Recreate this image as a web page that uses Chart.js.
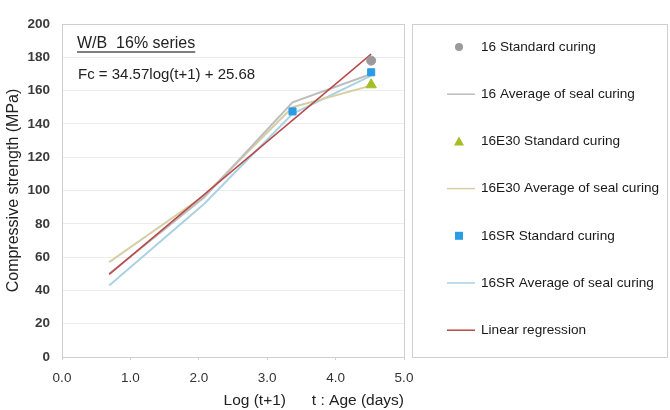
<!DOCTYPE html>
<html>
<head>
<meta charset="utf-8">
<script src="https://cdn.jsdelivr.net/npm/chart.js@4"></script>
<style>
  html, body { margin: 0; padding: 0; background: #fff; }
  #wrap { width: 670px; height: 410px; }
</style>
</head>
<body>
<div id="wrap"><canvas id="graphique"></canvas></div>
<script>
// x = log(t+1) for t = 1, 7, 28, 91 days
const logAge = [0.69, 2.08, 3.37, 4.52];
const avg16 = [50, 96, 153, 170];
const avg16E30 = [57, 97, 150, 163];
const avg16SR = [43, 92, 146, 169];

const std16X = [4.52], std16Y = [178];
const std16E30X = [4.52], std16E30Y = [163.5];
const std16SRX = [3.37, 4.52], std16SRY = [147.5, 171];

const regX = [0.69, 4.52], regY = [49.6, 181.9];

const xTicks = [0, 1, 2, 3, 4, 5];
const seriesTitle = "W/B  16% series";
const formula = "Fc = 34.57log(t+1) + 25.68";

function pts(xs, ys) {
  return xs.map((x, i) => ({ x: x, y: ys[i] }));
}

const FONT = "'Liberation Sans', Arial, sans-serif";

// plot frame, inner text and the boxed legend on the right
const extras = {
  id: "extras",
  afterDraw(chart) {
    const ctx = chart.ctx;
    const a = chart.chartArea;
    ctx.save();
    ctx.strokeStyle = "#cfcfcf";
    ctx.lineWidth = 1;
    ctx.strokeRect(a.left + 0.5, a.top + 0.5, a.right - a.left, a.bottom - a.top);

    ctx.fillStyle = "#222";
    ctx.font = "16px " + FONT;
    ctx.textBaseline = "alphabetic";
    ctx.fillText(seriesTitle, a.left + 15, a.top + 24);
    const w = ctx.measureText(seriesTitle).width;
    ctx.strokeStyle = "#555";
    ctx.lineWidth = 1.5;
    ctx.beginPath();
    ctx.moveTo(a.left + 15, a.top + 28);
    ctx.lineTo(a.left + 15 + w, a.top + 28);
    ctx.stroke();
    ctx.font = "15px " + FONT;
    ctx.fillText(formula, a.left + 16, a.top + 55);

    // legend
    const lx = 412, ly = a.top, lw = 255, lh = a.bottom - a.top;
    ctx.strokeStyle = "#cfcfcf";
    ctx.lineWidth = 1;
    ctx.strokeRect(lx + 0.5, ly + 0.5, lw, lh);
    const step = 47.2;
    ctx.font = "13.6px " + FONT;
    ctx.textBaseline = "middle";
    chart.data.datasets.forEach((ds, i) => {
      const y = ly + 23 + i * step;
      if (ds.showLine === false) {
        ctx.fillStyle = ds.backgroundColor;
        const cx = 459;
        if (ds.pointStyle === "triangle") {
          ctx.beginPath();
          ctx.moveTo(cx, y - 5);
          ctx.lineTo(cx + 5, y + 4);
          ctx.lineTo(cx - 5, y + 4);
          ctx.closePath();
          ctx.fill();
        } else if (ds.pointStyle === "rect") {
          ctx.fillRect(cx - 4, y - 4, 8, 8);
        } else {
          ctx.beginPath();
          ctx.arc(cx, y, 4, 0, Math.PI * 2);
          ctx.fill();
        }
      } else {
        ctx.strokeStyle = ds.borderColor;
        ctx.lineWidth = 1.5;
        ctx.beginPath();
        ctx.moveTo(447, y);
        ctx.lineTo(475, y);
        ctx.stroke();
      }
      ctx.fillStyle = "#1a1a1a";
      ctx.fillText(ds.label, 481, y);
    });
    ctx.restore();
  }
};

const ctx = document.getElementById("graphique").getContext("2d");
new Chart(ctx, {
  type: "scatter",
  data: {
    datasets: [
      {
        label: "16 Standard curing",
        data: pts(std16X, std16Y),
        showLine: false,
        pointStyle: "circle",
        pointRadius: 4.5,
        backgroundColor: "#9a9a9a",
        borderColor: "#9a9a9a",
        order: 1
      },
      {
        label: "16 Average of seal curing",
        data: pts(logAge, avg16),
        showLine: true,
        pointRadius: 0,
        borderColor: "#bdbdbd",
        borderWidth: 2,
        order: 5
      },
      {
        label: "16E30 Standard curing",
        data: pts(std16E30X, std16E30Y),
        showLine: false,
        pointStyle: "triangle",
        pointRadius: 6,
        backgroundColor: "#a8bd24",
        borderColor: "#a8bd24",
        order: 1
      },
      {
        label: "16E30 Average of seal curing",
        data: pts(logAge, avg16E30),
        showLine: true,
        pointRadius: 0,
        borderColor: "#d6cfa6",
        borderWidth: 2,
        order: 5
      },
      {
        label: "16SR Standard curing",
        data: pts(std16SRX, std16SRY),
        showLine: false,
        pointStyle: "rect",
        pointRadius: 5,
        backgroundColor: "#2b9be3",
        borderColor: "#2b9be3",
        order: 1
      },
      {
        label: "16SR Average of seal curing",
        data: pts(logAge, avg16SR),
        showLine: true,
        pointRadius: 0,
        borderColor: "#a9d2e3",
        borderWidth: 2,
        order: 5
      },
      {
        label: "Linear regression",
        data: pts(regX, regY),
        showLine: true,
        pointRadius: 0,
        borderColor: "#b8484a",
        borderWidth: 1.5,
        order: 2
      }
    ]
  },
  options: {
    responsive: true,
    maintainAspectRatio: false,
    animation: false,
    layout: { padding: { left: 0, right: 266, top: 24, bottom: 0 } },
    plugins: {
      legend: { display: false },
      tooltip: { enabled: false }
    },
    scales: {
      x: {
        type: "linear",
        min: 0,
        max: 5,
        afterBuildTicks: (s) => { s.ticks = xTicks.map(v => ({ value: v })); },
        afterFit: (s) => { s.height = 53; },
        grid: { drawOnChartArea: false, tickLength: 3, color: "#cfcfcf" },
        border: { display: false },
        ticks: {
          padding: 10,
          color: "#333",
          font: { family: FONT, size: 13.5 },
          callback: (v) => Number(v).toFixed(1)
        },
        title: {
          display: true,
          align: "end",
          text: "Log (t+1)      t : Age (days)",
          color: "#222",
          font: { family: FONT, size: 15.5 },
          padding: { top: 0, bottom: 0 }
        }
      },
      y: {
        min: 0,
        max: 200,
        afterFit: (s) => { s.width = 62; },
        ticks: {
          stepSize: 20,
          padding: 12,
          color: "#3a3a3a",
          font: { family: FONT, size: 13.5, weight: "bold" }
        },
        grid: { color: "#ececec", drawTicks: false },
        border: { display: false },
        title: {
          display: true,
          text: "Compressive strength (MPa)",
          color: "#222",
          font: { family: FONT, size: 16 },
          padding: { top: 4, bottom: 0 }
        }
      }
    }
  },
  plugins: [extras]
});
</script>
</body>
</html>
